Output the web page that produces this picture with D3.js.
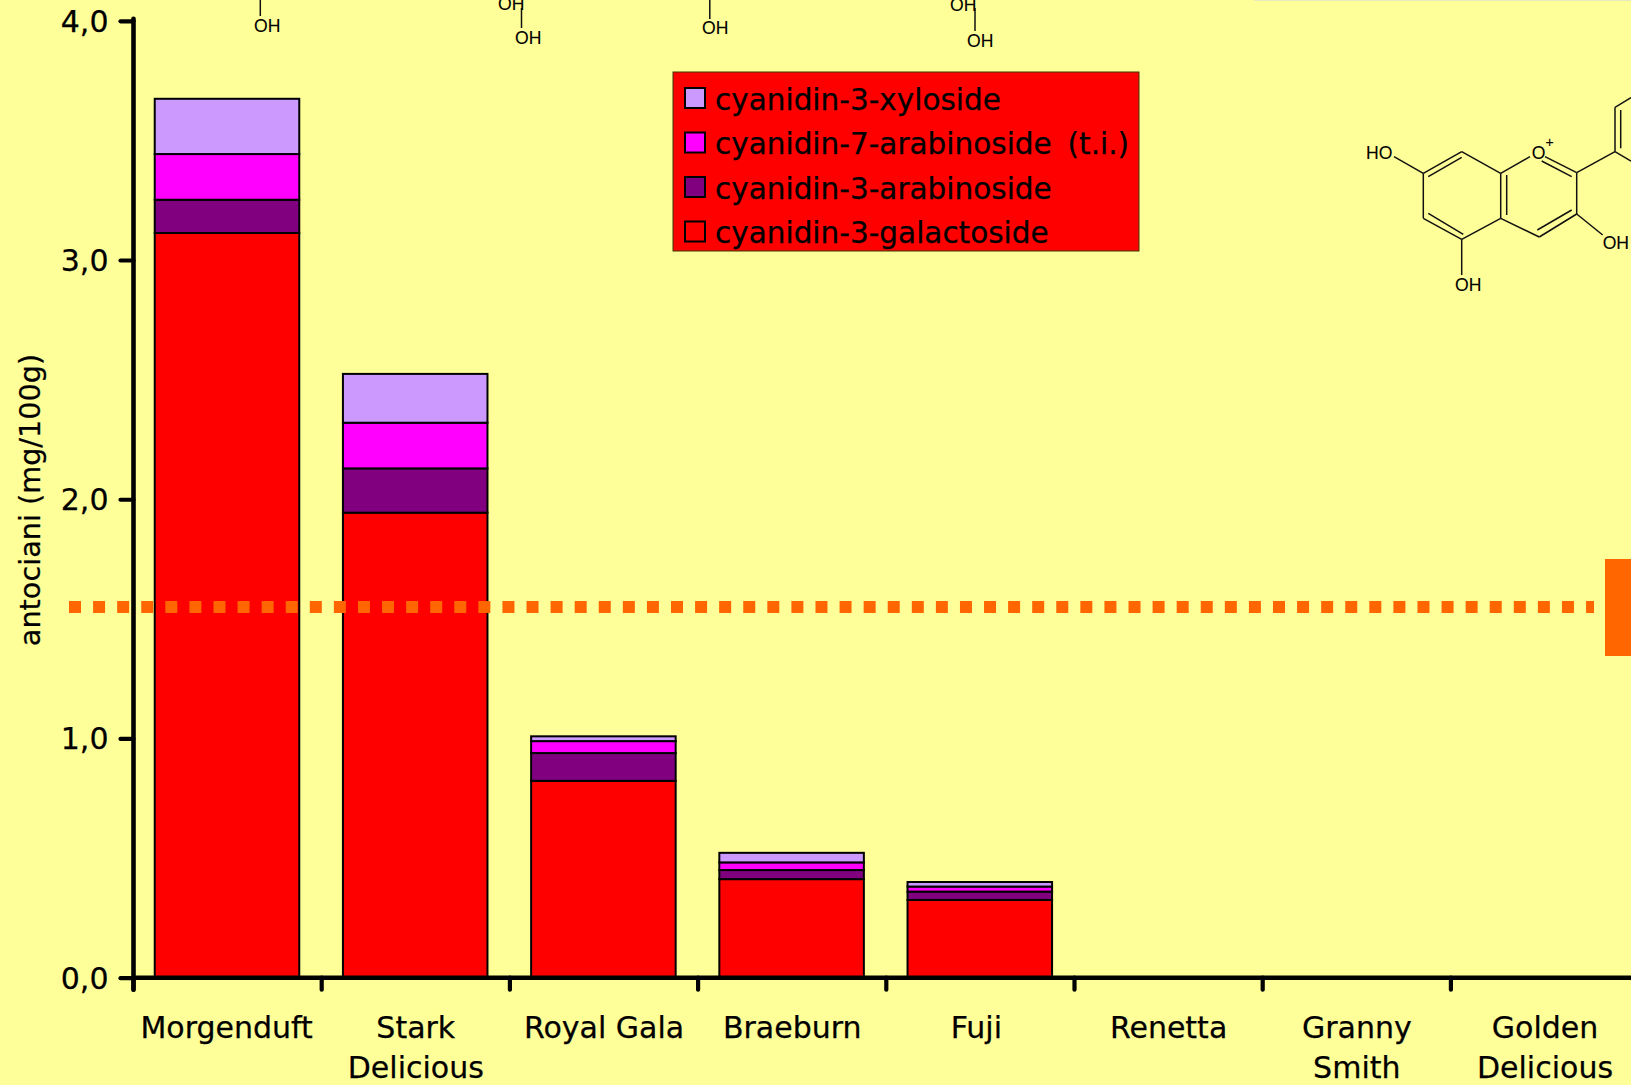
<!DOCTYPE html>
<html>
<head>
<meta charset="utf-8">
<script src="https://cdnjs.cloudflare.com/ajax/libs/d3/7.8.5/d3.min.js"></script>
<style>
  html, body { margin: 0; padding: 0; background: #FFFF99; overflow: hidden; }
  svg { display: block; }
  text { font-family: "DejaVu Sans", sans-serif; fill: #000; stroke: #000; stroke-width: 0.25; }
  .chem text { font-family: "Liberation Sans", Arial, sans-serif; font-size: 17.6px; stroke-width: 0.1; }
  .chem line { stroke: #111; stroke-width: 1.5; }
</style>
</head>
<body>
<svg id="chart" width="1631" height="1085"></svg>
<script>
// Anthocyanin content by apple cultivar (mg/100 g), stacked by compound.
const cultivars = ["Morgenduft", "Stark Delicious", "Royal Gala", "Braeburn", "Fuji", "Renetta", "Granny Smith", "Golden Delicious"];
const cyanidin3Galactoside = [3.113, 1.944, 0.823, 0.412, 0.325, 0, 0, 0];
const cyanidin3Arabinoside = [0.139, 0.185, 0.116, 0.038, 0.035, 0, 0, 0];
const cyanidin7Arabinoside = [0.191, 0.191, 0.050, 0.032, 0.021, 0, 0, 0];
const cyanidin3Xyloside    = [0.231, 0.204, 0.020, 0.040, 0.019, 0, 0, 0];
const seriesNames = ["cyanidin-3-galactoside", "cyanidin-3-arabinoside", "cyanidin-7-arabinoside (t.i.)", "cyanidin-3-xyloside"];
const seriesColors = ["#FF0000", "#800080", "#FF00FF", "#CC99FF"];
const yTicks = [0, 1, 2, 3, 4];
const referenceLevel = 1.55;

const svg = d3.select("#chart");
const plot = { left: 133.5, right: 133.5 + 188.2 * cultivars.length, top: 20.8, bottom: 977.7 };

const x = d3.scaleBand().domain(cultivars).range([plot.left, plot.right]).paddingInner(0.232).paddingOuter(0.116);
const y = d3.scaleLinear().domain([0, 4]).range([plot.bottom, plot.top]);

const table = cultivars.map((c, i) => ({
  cultivar: c,
  [seriesNames[0]]: cyanidin3Galactoside[i],
  [seriesNames[1]]: cyanidin3Arabinoside[i],
  [seriesNames[2]]: cyanidin7Arabinoside[i],
  [seriesNames[3]]: cyanidin3Xyloside[i]
}));
const stacked = d3.stack().keys(seriesNames)(table);

// Thin rule along the top edge of the slide
svg.append("rect").attr("x", 1254).attr("y", 0).attr("width", 377).attr("height", 1).attr("fill", "#E9E9C0");

// Stacked bars
svg.append("g").attr("transform", "translate(-0.6,0)").selectAll("g").data(stacked).join("g")
  .attr("fill", (d, i) => seriesColors[i])
  .selectAll("rect").data(d => d.filter(p => p[1] > p[0])).join("rect")
  .attr("x", d => x(d.data.cultivar))
  .attr("width", x.bandwidth())
  .attr("y", d => y(d[1]))
  .attr("height", d => y(d[0]) - y(d[1]))
  .attr("stroke", "#000")
  .attr("stroke-width", 2);

// Value axis
const yAxis = d3.axisLeft(y).tickValues(yTicks).tickSize(13).tickPadding(12)
  .tickFormat(d => d3.format(".1f")(d).replace(".", ","));
const yG = svg.append("g").attr("transform", `translate(${plot.left},0)`).call(yAxis);
yG.select(".domain").remove();
yG.selectAll("line").attr("stroke", "#000").attr("stroke-width", 4.2).attr("stroke-linecap", "round");
yG.selectAll("text").attr("font-size", 30).attr("font-family", "DejaVu Sans").attr("dy", "0.35em");
svg.append("line").attr("x1", plot.left).attr("x2", plot.left)
  .attr("y1", plot.top - 2).attr("y2", plot.bottom + 12)
  .attr("stroke", "#000").attr("stroke-width", 4.6).attr("stroke-linecap", "round");

// Category axis: ticks sit on the band boundaries, labels wrap onto two lines
const labelNudge = { "Fuji": -4, "Morgenduft": -1 };
const xAxis = d3.axisBottom(x).tickSize(0).tickPadding(0);
const xG = svg.append("g").attr("transform", `translate(0,${plot.bottom})`).call(xAxis);
xG.select(".domain").remove();
xG.selectAll("text").each(function (d) {
  const t = d3.select(this).text(null).attr("y", 0).attr("dy", null)
    .attr("font-size", 30).attr("font-family", "DejaVu Sans");
  const lines = d === "Royal Gala" ? [d] : d.split(" ");
  lines.forEach((w, i) => {
    t.append("tspan").attr("x", labelNudge[d] || 0).attr("y", 60.5 + i * 39.7).text(w);
  });
});
svg.append("line").attr("x1", plot.left).attr("x2", 1631)
  .attr("y1", plot.bottom).attr("y2", plot.bottom)
  .attr("stroke", "#000").attr("stroke-width", 4.6);
svg.append("g").selectAll("line").data(d3.range(cultivars.length)).join("line")
  .attr("x1", i => x(cultivars[i]) - x.step() * x.paddingInner() / 2)
  .attr("x2", i => x(cultivars[i]) - x.step() * x.paddingInner() / 2)
  .attr("y1", plot.bottom).attr("y2", plot.bottom + 12)
  .attr("stroke", "#000").attr("stroke-width", 4.2).attr("stroke-linecap", "round");

// Axis title
svg.append("text")
  .attr("transform", "translate(40,500) rotate(-90)")
  .attr("text-anchor", "middle")
  .attr("font-size", 28.7)
  .text("antociani (mg/100g)");

// Reference level: dotted line ending in an orange marker
svg.append("line").attr("x1", 69).attr("x2", 1594)
  .attr("y1", y(referenceLevel)).attr("y2", y(referenceLevel))
  .attr("stroke", "#FF6600").attr("stroke-width", 12).attr("stroke-dasharray", "12 12.08");
svg.append("rect").attr("x", 1605).attr("y", 559).attr("width", 26).attr("height", 97).attr("fill", "#FF6600");

// Legend
const legendRows = [3, 2, 1, 0];
const legend = svg.append("g");
legend.append("rect").attr("x", 673).attr("y", 72).attr("width", 466).attr("height", 179)
  .attr("fill", "#FF0000").attr("stroke", "#3a3a00").attr("stroke-width", 1);
const row = legend.selectAll("g").data(legendRows).join("g");
row.append("rect")
  .attr("x", 685).attr("y", (d, i) => 88 + i * 44.5).attr("width", 20).attr("height", 20)
  .attr("fill", d => seriesColors[d]).attr("stroke", "#000").attr("stroke-width", 2);
row.append("text")
  .attr("x", 715).attr("y", (d, i) => 110 + i * 44.4)
  .attr("font-size", 29.5)
  .attr("word-spacing", 6.5)
  .text(d => seriesNames[d]);

// Cyanidin structure, drawn as bond segments and atom labels
const bonds = [
  [1423.3,173.3,1461.7,151.7],[1461.7,151.7,1500.7,173.3],[1500.7,173.3,1500.7,218.3],
  [1500.7,218.3,1461.7,239.3],[1461.7,239.3,1423.3,218.3],[1423.3,218.3,1423.3,173.3],
  [1428.3,176.7,1461.7,157.3],[1428.3,213.3,1463.3,234.3],[1506.7,175,1506.7,215],
  [1500.7,173.3,1530,156.7],[1545,156.7,1576.7,172.7],[1541.7,161,1571.7,176.7],
  [1576.7,172.7,1576.7,214],[1576.7,214,1539.3,237],[1571.7,210,1537.3,230],
  [1539.3,237,1500.7,218.3],[1576.7,214,1602.7,235],[1461.7,239.3,1461.7,275],
  [1394,156.7,1423.3,173.3],[1576.7,172.7,1615,151.7],[1615,151.7,1615,107.3],
  [1615,107.3,1631,97.7],[1615,151.7,1631,161],[1620.7,148.3,1620.7,110],
  [260.3,0,260.3,16],[521.5,8,521.5,28],[709.8,0,709.8,19],[975,8,975,31]
];
const atoms = [
  ["HO",1366,159],["O",1531.7,159],["OH",1602.7,249],["OH",1455,291],
  ["OH",254,32],["OH",498,9.5],["OH",515,44],["OH",702,33.5],["OH",950,10.5],["OH",967,47]
];
const chem = svg.append("g").attr("class", "chem");
chem.selectAll("line").data(bonds).join("line")
  .attr("x1", d => d[0]).attr("y1", d => d[1]).attr("x2", d => d[2]).attr("y2", d => d[3]);
chem.selectAll("text.atom").data(atoms).join("text").attr("class", "atom")
  .attr("x", d => d[1]).attr("y", d => d[2]).text(d => d[0]);
chem.append("text").attr("x", 1545.5).attr("y", 147).style("font-size", "14px").text("+");
</script>
</body>
</html>
